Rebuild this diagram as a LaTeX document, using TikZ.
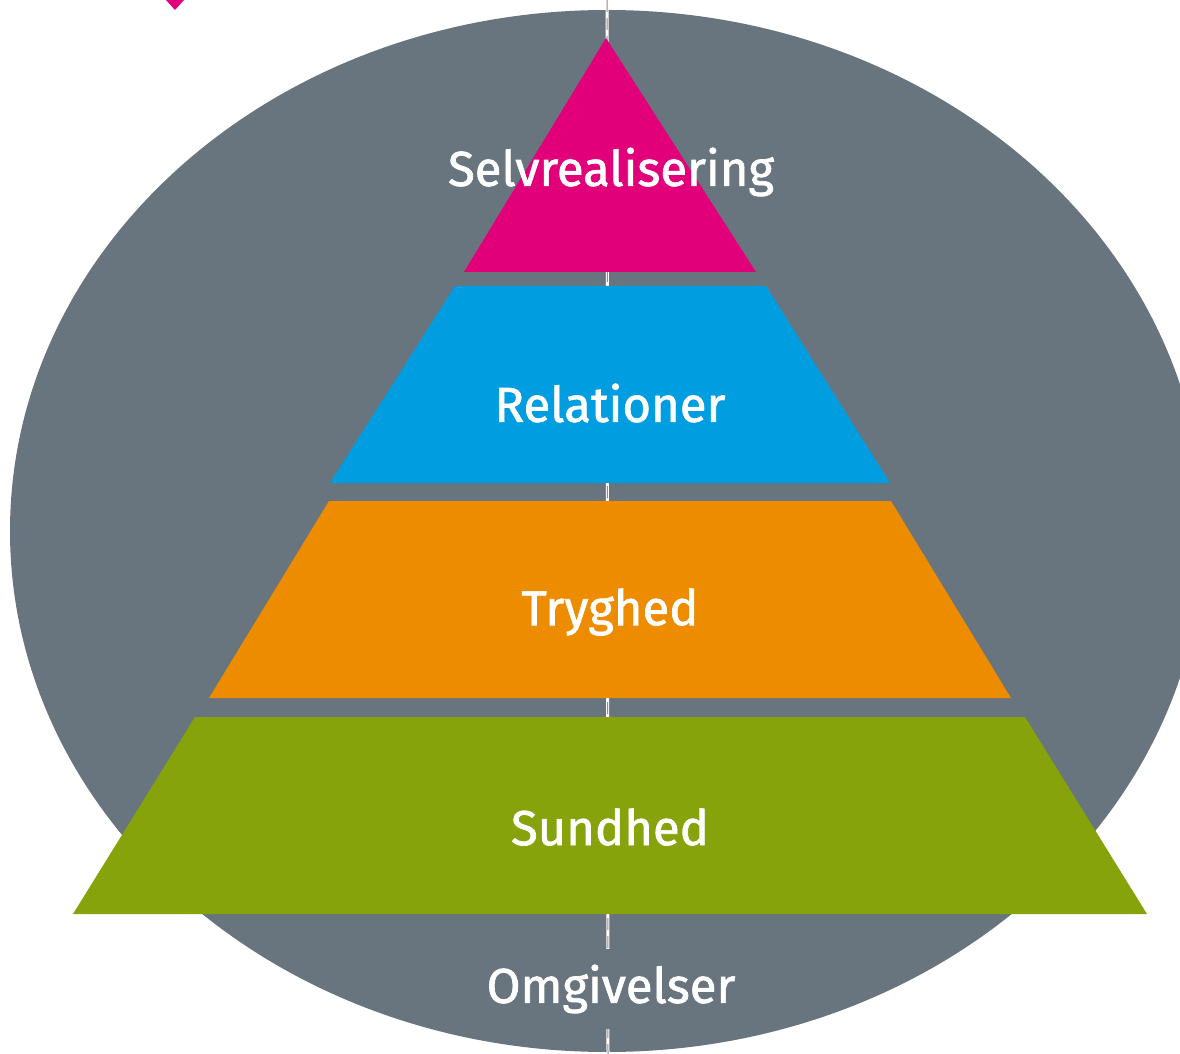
\documentclass[tikz,border=0pt]{standalone}
\usepackage{fontspec}
\setmainfont{Fira Sans}
\newfontfamily\labelfont{Fira Sans}[FakeBold=1.4]
\usetikzlibrary{positioning}

\definecolor{envgray}{HTML}{68757E}
\definecolor{selfpink}{HTML}{E2007A}
\definecolor{relblue}{HTML}{009EE0}
\definecolor{safeorange}{HTML}{EE8C00}
\definecolor{healthgreen}{HTML}{86A30B}

\begin{document}
\begin{tikzpicture}[x=0.5pt, y=-0.5pt]
% Define styles
\tikzstyle{level} = [draw=none]
\tikzstyle{label} = [text=white, font=\labelfont\fontsize{24.5}{28}\selectfont, inner sep=0pt]
\tikzstyle{axis} = [white, line width=1.5pt]
\tikzstyle{axisdash} = [envgray!80, line width=0.5pt, dash pattern=on 6pt off 3pt]

\useasboundingbox (0,0) rectangle (1180,1054);

% Background
\fill[envgray] (607,531) ellipse [x radius=597, y radius=521];
\draw[axis] (607,0) -- (608,1054);
\draw[axisdash] (607,0) -- (608,1054);

% Marker at the top
\fill[selfpink] (166,0) -- (184,0) -- (175,10) -- cycle;

% Pyramid levels
\fill[level, selfpink] (606,38) -- (756,272) -- (464,272) -- cycle;
\fill[level, relblue] (455,286) -- (766,286) -- (890,483) -- (330,483) -- cycle;
\fill[level, safeorange] (329,501) -- (891,501) -- (1011,698) -- (209,698) -- cycle;
\fill[level, healthgreen] (195,717) -- (1025,717) -- (1147,914) -- (73,914) -- cycle;

% Labels
\node (self) [label] at (611,172) {Selvrealisering};
\node (rel) [label] at (610,403) {Relationer};
\node (safe) [label] at (610,612) {Tryghed};
\node (health) [label] at (610,827) {Sundhed};
\node (env) [label, fill=envgray, minimum height=40pt, minimum width=40pt] at (611,989) {Omgivelser};
\end{tikzpicture}
\end{document}
